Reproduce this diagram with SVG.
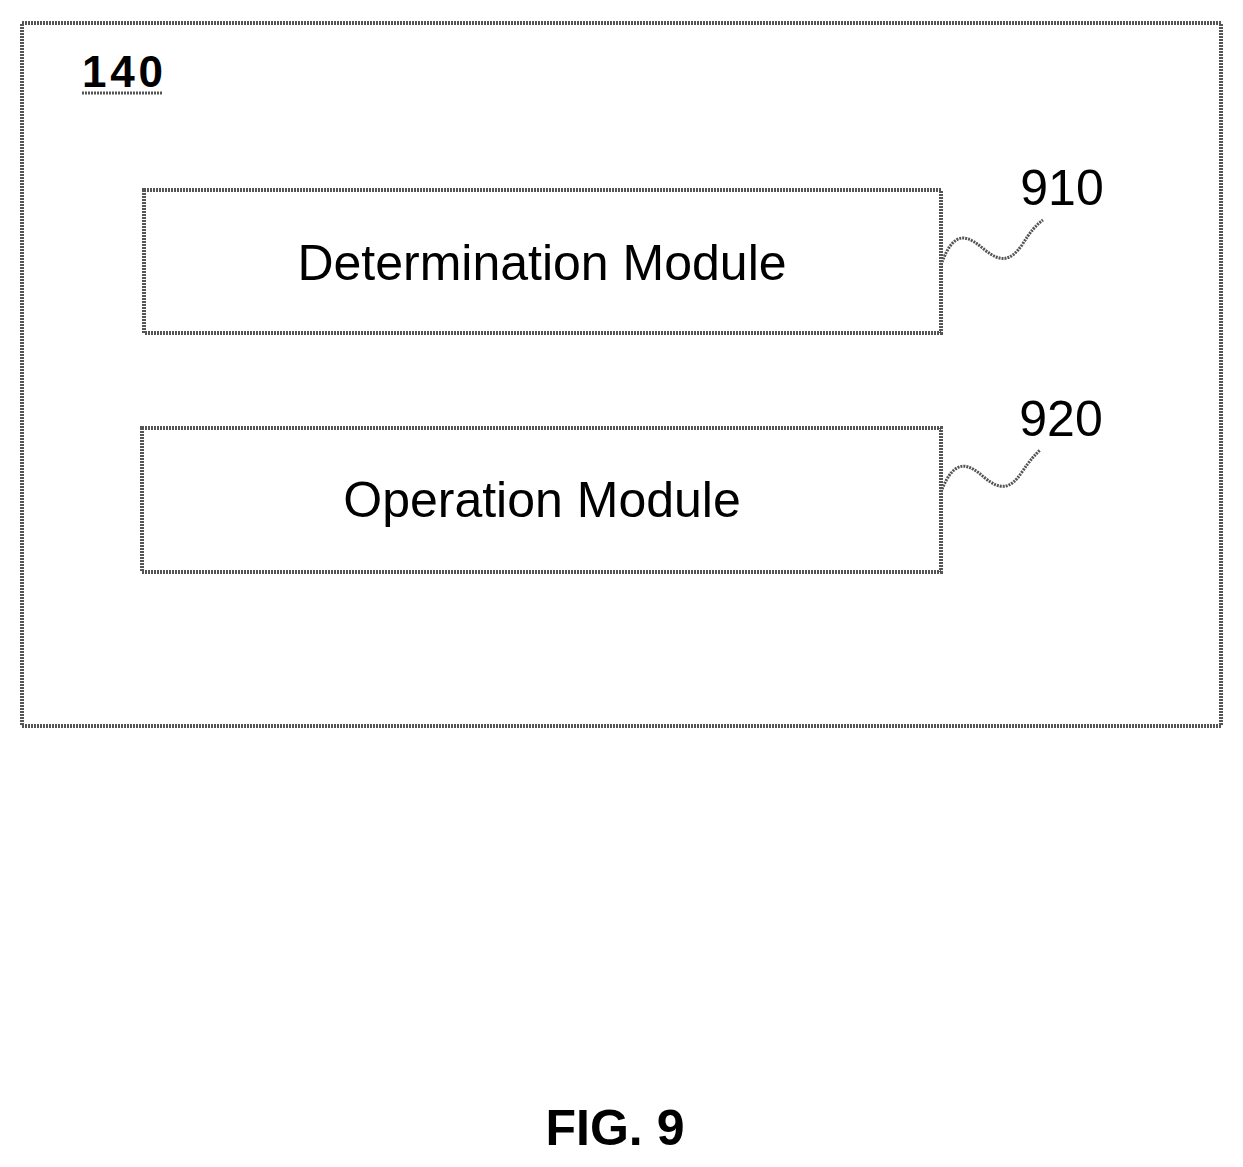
<svg xmlns="http://www.w3.org/2000/svg" width="1243" height="1167" viewBox="0 0 1243 1167">
<style>
.box{fill:#fff;stroke:#555;stroke-width:4;stroke-dasharray:2 1}
.t{font-family:"Liberation Sans",Arial,sans-serif;fill:#000}
.lead{fill:none;stroke:#555;stroke-width:3;stroke-dasharray:2 1}
</style>
<rect width="1243" height="1167" fill="#fff"/>
<g id="outer">
<rect class="box" x="22" y="23" width="1199" height="703"/>
<text class="t" x="82" y="87" font-size="44" font-weight="bold" textLength="81">140</text>
<line x1="82" y1="93" x2="163" y2="93" stroke="#555" stroke-width="3" stroke-dasharray="2 1"/>
</g>
<g id="n910">
<rect class="box" x="144" y="190" width="797" height="143"/>
<text class="t" x="542" y="280" font-size="50" text-anchor="middle">Determination Module</text>
<text class="t" x="1062" y="205" font-size="50" text-anchor="middle">910</text>
</g>
<g id="n920">
<rect class="box" x="142" y="428" width="799" height="144"/>
<text class="t" x="542" y="517" font-size="50" text-anchor="middle">Operation Module</text>
<text class="t" x="1061" y="436" font-size="50" text-anchor="middle">920</text>
</g>
<g id="connectors">
<path class="lead" d="M941,265 C955,225 970,238 985,250 C1000,262 1010,262 1022,245 C1030,232 1036,225 1043,220"/>
<path class="lead" d="M941,492 C955,455 970,465 985,478 C1000,490 1010,490 1022,472 C1030,460 1035,455 1040,450"/>
</g>
<text class="t" x="615" y="1145" font-size="50" font-weight="bold" text-anchor="middle">FIG. 9</text>
</svg>
